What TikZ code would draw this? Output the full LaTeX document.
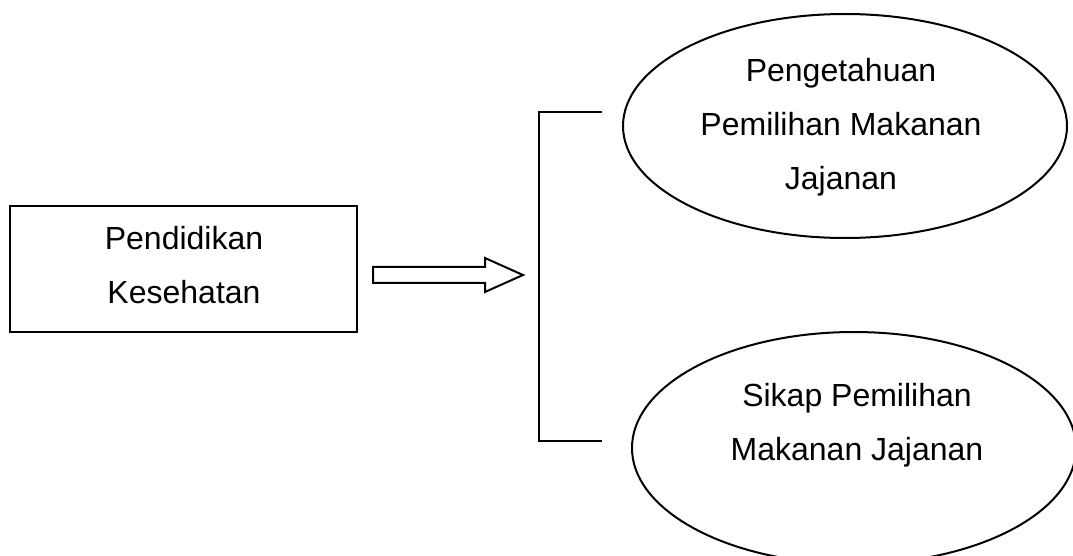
\documentclass[tikz,border=0pt]{standalone}
\usepackage{fontspec}
\setmainfont{Liberation Sans}
\usetikzlibrary{shapes.geometric}
\begin{document}
\begin{tikzpicture}[x=0.5pt,y=-0.5pt,
  line width=1pt,
  lbl/.style={font=\fontsize{16pt}{27pt}\selectfont, align=center, inner sep=0pt},
  oval/.style={draw, ellipse, minimum width=222pt, minimum height=112pt, inner sep=0pt}]
\useasboundingbox (0,0) rectangle (1073,556);
\begin{scope}
\clip (0,0) rectangle (1073,556);
% box
\node[draw, minimum width=173.5pt, minimum height=63pt, inner sep=0pt] (box) at (183.5,269) {};
\node[lbl] (boxt) at (184,265) {Pendidikan\\Kesehatan};
% ellipses
\node[oval] (e1) at (845,126) {};
\node[lbl] at (841,127) {Pengetahuan\\Pemilihan Makanan\\Jajanan};
\node[oval, minimum height=116pt] (e2) at (854,448) {};
\node[lbl] at (857,425) {Sikap Pemilihan\\Makanan Jajanan};
% block arrow
\draw (373,267) -- (485,267) -- (485,258) -- (523,275) -- (485,292) -- (485,283) -- (373,283) -- cycle;
% bracket
\coordinate (bt) at (602,112);
\coordinate (bb) at (602,441);
\draw (bt) -- (539,112) -- (539,441) -- (bb);
\end{scope}
\end{tikzpicture}
\end{document}
